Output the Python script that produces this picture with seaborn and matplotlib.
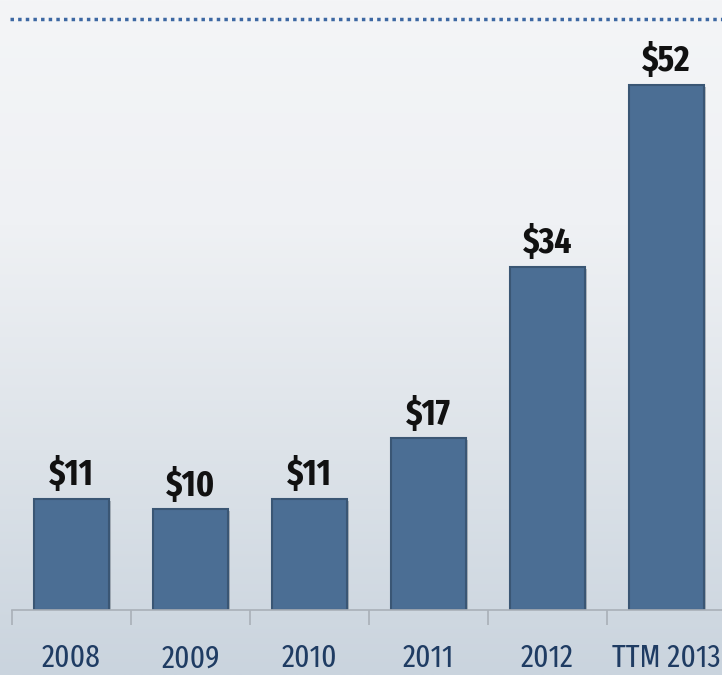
import numpy as np
import pandas as pd
import matplotlib.pyplot as plt
import seaborn as sns
import matplotlib.patheffects as pe
from matplotlib.lines import Line2D
from matplotlib.colors import LinearSegmentedColormap

# ---------- data ----------
years = ["2008", "2009", "2010", "2011", "2012", "TTM 2013"]
revenue = [11, 10, 11, 17, 34, 52]

df = pd.DataFrame({"year": years, "revenue": revenue})

sns.set_theme(style="white")
plt.rcParams['font.family'] = ['Fira Sans Extra Condensed', 'DejaVu Sans']

fig = plt.figure(figsize=(7.22, 6.75), dpi=100)

# background gradient (light top, slightly blue-grey bottom)
bg = fig.add_axes([0, 0, 1, 1], zorder=-10)
grad = np.linspace(0, 1, 256).reshape(-1, 1)
cmap = LinearSegmentedColormap.from_list("bg", ["#f4f5f7", "#eff1f4", "#dde3e9", "#cad4de"])
bg.imshow(grad, aspect="auto", cmap=cmap, extent=[0, 1, 0, 1], origin="upper")
bg.axis("off")

ax = fig.add_axes([12 / 722, 65 / 675, 714 / 722, 610 / 675])
ax.patch.set_alpha(0)

sns.barplot(data=df, x="year", y="revenue", color="#4b6e94", width=0.63,
            edgecolor="#3a5674", linewidth=1.5, saturation=1, ax=ax)
for bar in ax.patches:
    bar.set_path_effects([pe.SimplePatchShadow(offset=(1.5, -1.5), alpha=0.25), pe.Normal()])

ax.set_ylim(0, 610 / 10.1)
ax.set_xlim(-0.5, 5.5)

ax.bar_label(ax.containers[0], fmt="${:.0f}", padding=4,
             fontsize=26, fontweight="bold", color="#111111")

for s in ["top", "left", "right"]:
    ax.spines[s].set_visible(False)
ax.spines["bottom"].set_color("#a9b0b8")
ax.spines["bottom"].set_linewidth(1.2)

ax.set_yticks([])
ax.set_xlabel("")
ax.set_ylabel("")
ax.set_xticks(np.arange(-0.5, 6.0, 1.0), minor=True)
ax.tick_params(axis="x", which="minor", bottom=True, length=11, width=1.2, color="#a9b0b8")
ax.tick_params(axis="x", which="major", bottom=False, length=0, pad=24,
               labelsize=23, labelcolor="#1f3c63")

# dotted rule at top
fig.add_artist(Line2D([10 / 722, 1.0], [656 / 675, 656 / 675], transform=fig.transFigure,
                      color="#3d68a3", linestyle=(0, (1, 1.2)), linewidth=2.5))

fig.savefig("out.png", dpi=100)
